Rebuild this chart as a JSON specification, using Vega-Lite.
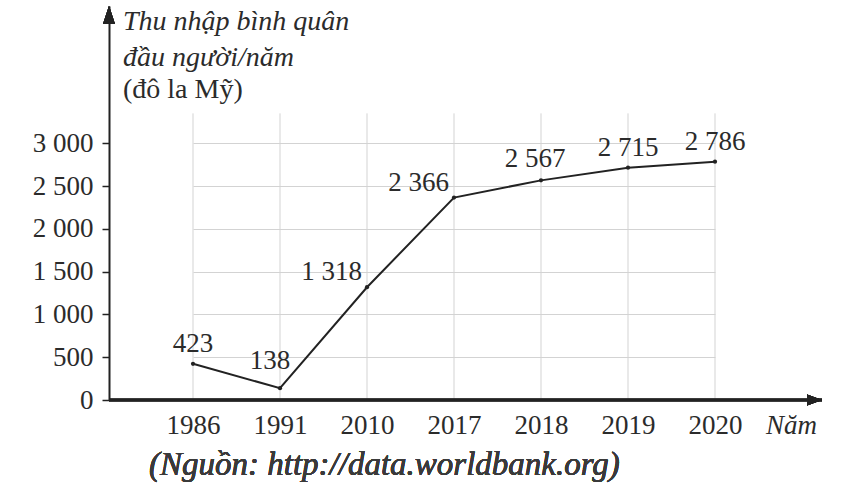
{
  "$schema": "https://vega.github.io/schema/vega-lite/v6.json",
  "width": 713,
  "height": 394,
  "autosize": {"type": "none"},
  "padding": {"left": 109, "top": 6, "right": 46, "bottom": 87},
  "background": "white",
  "config": {
    "view": {"stroke": null},
    "locale": {"number": {"decimal": ",", "thousands": " ", "grouping": [3], "currency": ["", ""]}}
  },
  "title": {
    "text": ["Thu nhập bình quân", "đầu người/năm"],
    "subtitle": "(đô la Mỹ)",
    "anchor": "start",
    "frame": "group",
    "orient": "top",
    "offset": -98,
    "dx": 14,
    "font": "Liberation Serif",
    "fontSize": 28,
    "fontStyle": "italic",
    "fontWeight": "normal",
    "color": "#2b2b2b",
    "lineHeight": 36,
    "subtitleFont": "Liberation Serif",
    "subtitleFontSize": 28,
    "subtitleFontStyle": "normal",
    "subtitleColor": "#2b2b2b",
    "subtitlePadding": 4
  },
  "data": {
    "values": [
      {"year": "1986", "value": 423},
      {"year": "1991", "value": 138},
      {"year": "2010", "value": 1318},
      {"year": "2017", "value": 2366},
      {"year": "2018", "value": 2567},
      {"year": "2019", "value": 2715},
      {"year": "2020", "value": 2786}
    ]
  },
  "encoding": {
    "x": {
      "field": "year",
      "type": "ordinal",
      "scale": {"type": "point", "range": [84, 606], "padding": 0},
      "axis": {
        "title": "Năm",
        "titleFont": "Liberation Serif",
        "titleFontStyle": "italic",
        "titleFontWeight": "normal",
        "titleFontSize": 27,
        "titleColor": "#2b2b2b",
        "titleX": 682,
        "titleY": 25,
        "titleAlign": "center",
        "titleBaseline": "middle",
        "labelAngle": 0,
        "labelFont": "Liberation Serif",
        "labelFontSize": 27,
        "labelColor": "#2b2b2b",
        "labelPadding": 12,
        "ticks": false,
        "grid": false,
        "domain": false
      }
    },
    "y": {
      "field": "value",
      "type": "quantitative",
      "scale": {"domain": [0, 4605], "nice": false},
      "axis": {
        "title": null,
        "values": [0, 500, 1000, 1500, 2000, 2500, 3000],
        "format": ",.0f",
        "labelFont": "Liberation Serif",
        "labelFontSize": 27,
        "labelColor": "#2b2b2b",
        "labelPadding": 9,
        "tickSize": 7,
        "tickColor": "#222222",
        "tickWidth": 1.5,
        "domain": true,
        "domainColor": "#222222",
        "domainWidth": 2,
        "grid": true,
        "gridColor": "#d3d3d3",
        "gridWidth": 1
      }
    }
  },
  "layer": [
    {
      "mark": {"type": "rule", "color": "#d3d3d3", "strokeWidth": 1},
      "encoding": {
        "y": {"datum": 0, "type": "quantitative"},
        "y2": {"datum": 3350}
      }
    },
    {
      "mark": {"type": "rule", "color": "#222222", "strokeWidth": 2.5},
      "encoding": {
        "x": {"value": 0},
        "x2": {"value": "width"},
        "y": {"datum": 0, "type": "quantitative"}
      }
    },
    {
      "mark": {"type": "line", "color": "#222222", "strokeWidth": 2}
    },
    {
      "mark": {"type": "point", "filled": true, "opacity": 1, "size": 18, "color": "#222222"}
    },
    {
      "transform": [{"filter": {"field": "year", "oneOf": ["1986", "2019", "2020"]}}],
      "mark": {"type": "text", "font": "Liberation Serif", "fontSize": 27, "baseline": "middle", "align": "center", "dy": -20, "color": "#2b2b2b"},
      "encoding": {"text": {"field": "value", "type": "quantitative", "format": ","}}
    },
    {
      "transform": [{"filter": {"field": "year", "oneOf": ["2018"]}}],
      "mark": {"type": "text", "font": "Liberation Serif", "fontSize": 27, "baseline": "middle", "align": "center", "dx": -6, "dy": -21, "color": "#2b2b2b"},
      "encoding": {"text": {"field": "value", "type": "quantitative", "format": ","}}
    },
    {
      "transform": [{"filter": {"field": "year", "oneOf": ["2010", "2017"]}}],
      "mark": {"type": "text", "font": "Liberation Serif", "fontSize": 27, "baseline": "middle", "align": "right", "dx": -5, "dy": -15, "color": "#2b2b2b"},
      "encoding": {"text": {"field": "value", "type": "quantitative", "format": ","}}
    },
    {
      "transform": [{"filter": {"field": "year", "oneOf": ["1991"]}}],
      "mark": {"type": "text", "font": "Liberation Serif", "fontSize": 27, "baseline": "middle", "align": "center", "dx": -10, "dy": -27, "color": "#2b2b2b"},
      "encoding": {"text": {"field": "value", "type": "quantitative", "format": ","}}
    },
    {
      "mark": {"type": "point", "shape": "M0,0 L-1,-0.37 L-1,0.37 Z", "filled": true, "opacity": 1, "size": 900, "color": "#222222"},
      "encoding": {"x": {"value": "width"}, "y": {"datum": 0, "type": "quantitative"}}
    },
    {
      "mark": {"type": "point", "shape": "M0,0 L-0.33,1 L0.33,1 Z", "filled": true, "opacity": 1, "size": 1296, "color": "#222222"},
      "encoding": {"x": {"value": 0}, "y": {"datum": 4605, "type": "quantitative"}}
    },
    {
      "mark": {"type": "text", "font": "Liberation Serif", "fontSize": 33, "fontStyle": "italic", "baseline": "middle", "align": "left", "dx": -44, "color": "#3a3a3a"},
      "encoding": {
        "x": {"datum": "1986", "type": "ordinal"},
        "y": {"datum": -760, "type": "quantitative"},
        "text": {"value": "(Nguồn: http://data.worldbank.org)"}
      }
    }
  ]
}
